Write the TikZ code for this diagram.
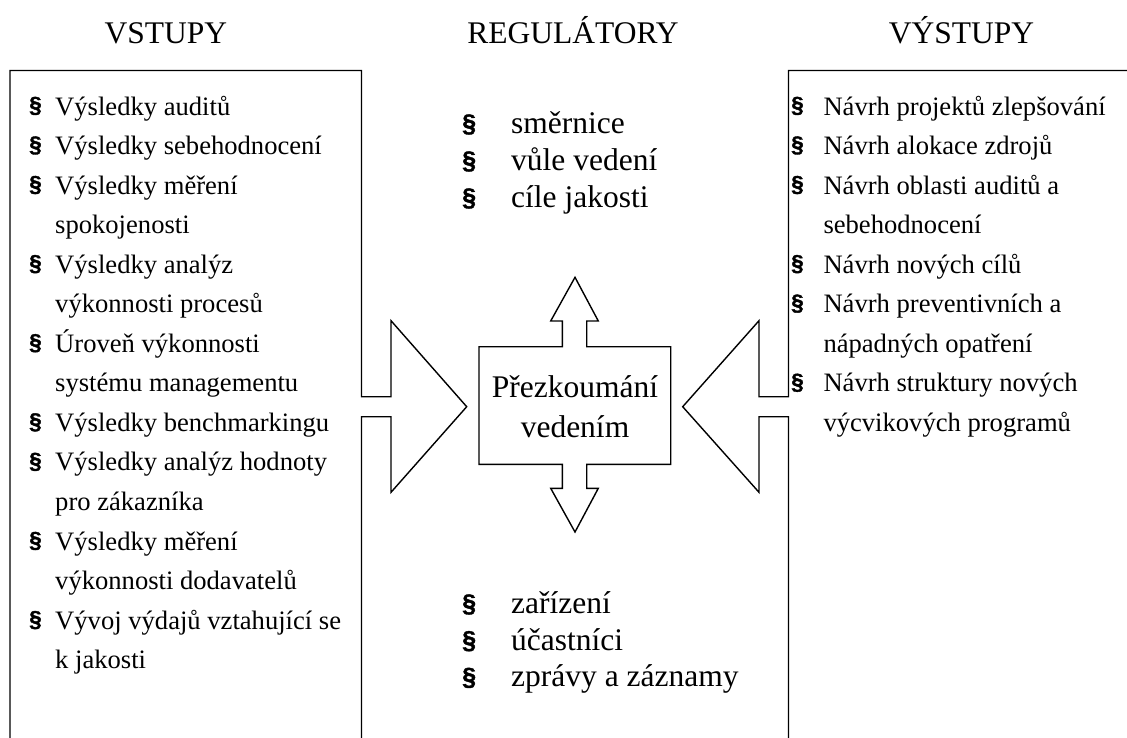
\documentclass[tikz,border=0pt]{standalone}
\usepackage{fontspec}
\setmainfont{Liberation Serif}
\newfontfamily\secfont[FakeBold=1.6]{Liberation Sans Bold}
\newcommand\secmark[1]{\raisebox{#1pt}{\secfont §}}
\begin{document}
\begin{tikzpicture}[x=1pt,y=-1pt,
  outline/.style={draw=black, line width=1.4pt, line join=miter},
  title/.style={font=\fontsize{31.5}{36}\selectfont, anchor=base, inner sep=0pt},
  item/.style={font=\fontsize{26.6}{30}\selectfont, anchor=base west, inner sep=0pt},
  sbul/.style={font=\fontsize{22.5}{26}\selectfont, anchor=base west, inner sep=0pt},
  citem/.style={font=\fontsize{31.5}{36}\selectfont, anchor=base west, inner sep=0pt},
  cbul/.style={font=\fontsize{25}{28}\selectfont, anchor=base west, inner sep=0pt},
]
\useasboundingbox (0,0) rectangle (1127,737);

% column headings
\node[title] (tin)  at (166,43.3)   {VSTUPY};
\node[title] (treg) at (573,43.3)   {REGULÁTORY};
\node[title] (tout) at (961.5,43.3) {VÝSTUPY};

% input frame with its arrow towards the review
\draw[outline] (10,738) -- (10,70.5) -- (361.5,70.5) -- (361.5,396.7)
  -- (391,396.7) -- (391,320.7) -- (466.7,406.7) -- (391,492.3)
  -- (391,416.7) -- (361.5,416.7) -- (361.5,738);

% output frame with its arrow towards the review
\draw[outline] (1128,70.5) -- (788.5,70.5) -- (788.5,396.7)
  -- (759,396.7) -- (759,320.7) -- (682.7,406.7) -- (759,492.3)
  -- (759,416.7) -- (788.5,416.7) -- (788.5,738);

% review box with the up and down arrows
\draw[outline] (479,346.7) -- (562.3,346.7) -- (562.3,321) -- (550.7,321)
  -- (575,277.3) -- (598.3,321) -- (586.7,321) -- (586.7,346.7)
  -- (670.7,346.7) -- (670.7,464.3) -- (586.7,464.3) -- (586.7,488.3)
  -- (598.3,488.3) -- (575,532) -- (550.7,488.3) -- (562.3,488.3)
  -- (562.3,464.3) -- (479,464.3) -- cycle;
\node[title] (rev1) at (575,397) {Přezkoumání};
\node[title] (rev2) at (575,437) {vedením};

% inputs
\foreach \k/\b/\t in {0/1/Výsledky auditů, 1/1/Výsledky sebehodnocení,
  2/1/Výsledky měření, 3/0/spokojenosti, 4/1/Výsledky analýz,
  5/0/výkonnosti procesů, 6/1/Úroveň výkonnosti, 7/0/systému managementu,
  8/1/Výsledky benchmarkingu, 9/1/Výsledky analýz hodnoty, 10/0/pro zákazníka,
  11/1/Výsledky měření, 12/0/výkonnosti dodavatelů,
  13/1/Vývoj výdajů vztahující se, 14/0/k jakosti}{
  \node[item] (in\k) at (55,{115+39.55*\k}) {\t};
  \ifnum\b=1 \node[sbul] (inb\k) at (29,{115+39.55*\k}) {\secmark{2.5}};\fi
}

% outputs
\foreach \k/\b/\t in {0/1/Návrh projektů zlepšování, 1/1/Návrh alokace zdrojů,
  2/1/Návrh oblasti auditů a, 3/0/sebehodnocení, 4/1/Návrh nových cílů,
  5/1/Návrh preventivních a, 6/0/nápadných opatření,
  7/1/Návrh struktury nových, 8/0/výcvikových programů}{
  \node[item] (out\k) at (823.3,{115+39.55*\k}) {\t};
  \ifnum\b=1 \node[sbul] (outb\k) at (791,{115+39.55*\k}) {\secmark{2.5}};\fi
}

% regulators
\foreach \k/\y/\t in {0/133.3/směrnice, 1/170.3/vůle vedení, 2/207.3/cíle jakosti}{
  \node[citem] (reg\k) at (511,\y) {\t};
  \node[cbul] (regb\k) at (462,\y) {\secmark{1.5}};
}

% resources
\foreach \k/\y/\t in {0/613.3/zařízení, 1/650/účastníci, 2/686.7/zprávy a záznamy}{
  \node[citem] (res\k) at (511,\y) {\t};
  \node[cbul] (resb\k) at (462,\y) {\secmark{1.5}};
}
\end{tikzpicture}
\end{document}
